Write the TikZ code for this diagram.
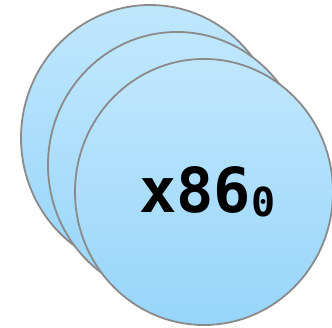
\documentclass[tikz,border=0pt]{standalone}
\usepackage{fontspec}
\newfontfamily\monob{DejaVu Sans Mono}
\definecolor{topblue}{HTML}{BFE7FC}
\definecolor{botblue}{HTML}{98D5FB}
\definecolor{rim}{HTML}{8A8A8A}
\begin{document}
\begin{tikzpicture}[x=1pt,y=-1pt,
  disc/.style={draw=rim,line width=1.8pt,top color=topblue,bottom color=botblue}]
\useasboundingbox (0,0) rectangle (332,328);
\begin{scope}
\clip (0,0) rectangle (332,328);
\path[disc] (150,138) ellipse [x radius=129,y radius=133];
\path[disc] (177,165) ellipse [x radius=129,y radius=133];
\path[disc] (204,192) ellipse [x radius=129,y radius=133];
\end{scope}
\node[inner sep=0,anchor=base west,font={\monob\bfseries\fontsize{62}{62}\selectfont}] (lbl) at (139,213) {x86\raisebox{-4pt}{\fontsize{40}{40}\selectfont 0}};
\end{tikzpicture}
\end{document}
